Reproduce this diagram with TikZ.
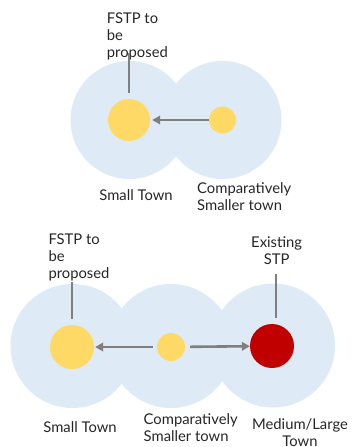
\documentclass[tikz,border=0pt]{standalone}
\usepackage{fontspec}
\setmainfont{Lato}
\usetikzlibrary{arrows.meta}
\definecolor{zone}{RGB}{222,234,246}
\definecolor{fstp}{RGB}{255,217,102}
\definecolor{stp}{RGB}{192,0,0}
\definecolor{conn}{RGB}{127,127,127}
\begin{document}
\begin{tikzpicture}[x=1pt,y=-1pt,
  zonecirc/.style={circle,fill=zone,inner sep=0pt,minimum size=#1},
  plant/.style={circle,fill=#1,inner sep=0pt},
  lbl/.style={inner sep=0pt,font=\fontsize{14.8}{17}\selectfont,text=black!85},
  arr/.style={draw=conn,line width=2.6pt,-{Triangle[length=8pt,width=8.5pt]}},
  stem/.style={draw=conn,line width=2.2pt}]
\useasboundingbox (0,0) rectangle (354,447);
% ---------- top diagram ----------
\node[zonecirc=118pt] (z1) at (129.5,120) {};
\node[zonecirc=118pt] (z2) at (222.5,120) {};
\node[plant=fstp,minimum size=42pt] (f1) at (129,120) {};
\node[plant=fstp,minimum size=27pt] (s1) at (222.5,120) {};
\draw[arr,shorten >=2pt] (s1) -- (f1);
\node[lbl,anchor=base west,align=left] (l1) at (106.7,57) {FSTP to\\be\\proposed};
\coordinate (c1) at (129,53);
\draw[stem,shorten >=6pt] (c1) -- (f1.north);
\node[lbl,anchor=base] (t1) at (136,200.5) {Small Town};
\node[lbl,anchor=base west,align=left] (t2) at (197,210) {Comparatively\\Smaller town};
% ---------- bottom diagram ----------
\node[zonecirc=124pt] (z3) at (72.5,346) {};
\node[zonecirc=124pt] (z4) at (171,346) {};
\node[zonecirc=124pt] (z5) at (273,345.5) {};
\node[plant=fstp,minimum size=44pt] (f2) at (72,347) {};
\node[plant=fstp,minimum size=28pt] (s2) at (171,347) {};
\node[plant=stp,minimum size=44pt] (r2) at (272,346) {};
\draw[arr,shorten <=4pt,shorten >=1pt] (s2) -- (f2);
\draw[arr,shorten <=5pt] (s2) -- (r2);
\node[lbl,anchor=base west,align=left] (l2) at (48.3,278.5) {FSTP to\\be\\proposed};
\coordinate (c2) at (72,282);
\draw[stem,shorten >=6pt] (c2) -- (f2.north);
\node[lbl,anchor=base,align=center] (l3) at (276.7,264.3) {Existing\\STP};
\coordinate (c3) at (276,274);
\draw[stem,shorten >=6pt] (c3) -- (c3 |- r2.north);
\node[lbl,anchor=base] (t3) at (80,432.5) {Small Town};
\node[lbl,anchor=base west,align=left] (t4) at (143.5,441.7) {Comparatively\\Smaller town};
\node[lbl,anchor=base,align=center] (t5) at (300,446) {Medium/Large\\Town};
\end{tikzpicture}
\end{document}
